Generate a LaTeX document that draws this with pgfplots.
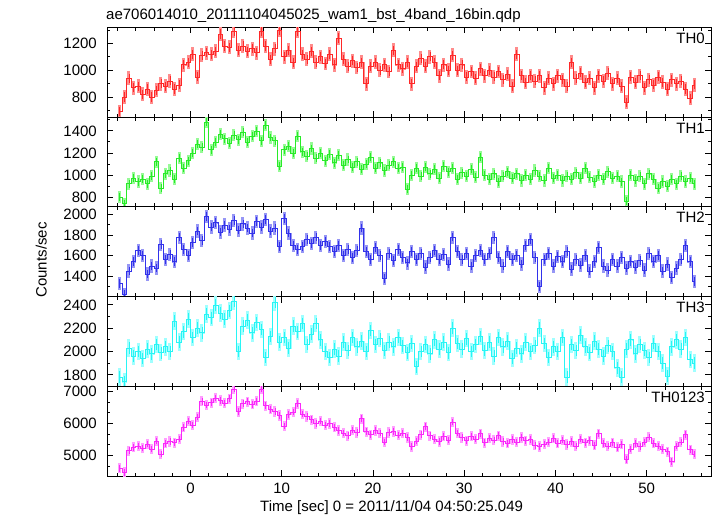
\documentclass[border=0pt]{standalone}
\usepackage{fontspec}
\setmainfont{Liberation Sans}
\usepackage{pgfplots}
\usepackage{pgfplotstable}
\pgfplotsset{compat=1.18}

\definecolor{rd}{RGB}{255,40,40}   \definecolor{rdl}{RGB}{255,140,140}
\definecolor{gr}{RGB}{40,235,40}   \definecolor{grl}{RGB}{150,250,150}
\definecolor{bl}{RGB}{50,50,235}   \definecolor{bll}{RGB}{150,150,245}
\definecolor{cy}{RGB}{40,245,245}  \definecolor{cyl}{RGB}{160,255,255}
\definecolor{mg}{RGB}{250,40,250}  \definecolor{mgl}{RGB}{255,160,255}

% t = bin centre [s]; a..e = TH0, TH1, TH2, TH3, TH0123 [counts/s]
\pgfplotstableread{
t a b c d e
-7.75 690 800 1330 1780 4600
-7.25 800 740 1220 1740 4470
-6.75 940 920 1450 2030 5150
-6.25 870 970 1540 1960 5260
-5.75 880 940 1650 2000 5300
-5.25 820 960 1600 1940 5230
-4.75 860 920 1420 2020 5360
-4.25 800 990 1500 1980 5200
-3.75 850 1120 1480 2060 5450
-3.25 900 880 1710 1990 5050
-2.75 880 1010 1560 2040 5380
-2.25 920 1040 1610 2000 5440
-1.75 860 960 1540 2260 5400
-1.25 890 1150 1780 2080 5520
-0.75 1040 1060 1660 2170 5880
-0.25 1060 1130 1600 2280 6080
0.25 1120 1200 1730 2120 5950
0.75 950 1280 1840 2200 6200
1.25 1110 1250 1750 2160 6700
1.75 1130 1480 1980 2320 6580
2.25 1120 1230 1880 2290 6650
2.75 1140 1300 1920 2400 6800
3.25 1270 1370 1830 2330 6720
3.75 1180 1330 1900 2280 6640
4.25 1170 1290 1860 2350 6780
4.75 1290 1360 1940 2430 7080
5.25 1150 1320 1850 2000 6380
5.75 1180 1390 1910 2220 6620
6.25 1140 1300 1870 2270 6680
6.75 1160 1350 1820 2160 6600
7.25 1130 1400 1930 2250 6700
7.75 1290 1310 1880 2190 7080
8.25 1180 1450 1950 1950 6560
8.75 1080 1340 1840 2130 6450
9.25 1160 1310 1870 2420 6380
9.75 1300 1080 1690 2080 6250
10.25 1100 1230 1960 2120 5920
10.75 1150 1260 1820 2030 6280
11.25 1060 1200 1700 2220 6360
11.75 1290 1350 1660 2170 6630
12.25 1120 1210 1690 2240 6300
12.75 1080 1170 1760 2060 6220
13.25 1140 1240 1720 2150 6120
13.75 1060 1150 1780 2240 6000
14.25 1100 1200 1700 2100 6080
14.75 1050 1130 1740 2000 5950
15.25 1120 1190 1690 1950 6000
15.75 1040 1110 1640 2020 5880
16.25 1240 1180 1700 1960 5780
16.75 1080 1090 1600 2080 5700
17.25 1030 1140 1660 2010 5620
17.75 1070 1070 1580 2120 5800
18.25 1020 1120 1650 2040 5720
18.75 1060 1050 1870 2090 6150
19.25 900 1100 1640 2000 5740
19.75 1030 1160 1560 2180 5650
20.25 1060 1060 1680 2060 5780
20.75 1000 1110 1600 2110 5700
21.25 1040 1040 1380 2010 5420
21.75 990 1090 1620 2080 5720
22.25 1150 1120 1550 2040 5750
22.75 1040 1060 1660 2120 5640
23.25 1010 1070 1580 2050 5700
23.75 1060 870 1530 1990 5560
24.25 900 1000 1640 2070 5280
24.75 1030 1060 1560 1870 5450
25.25 1090 990 1620 2000 5650
25.75 1030 1070 1490 2060 5900
26.25 1100 1010 1580 1980 5620
26.75 1060 1050 1650 2100 5520
27.25 960 970 1560 2020 5440
27.75 1040 1080 1610 2080 5600
28.25 1000 1030 1520 1990 5480
28.75 1110 1060 1780 2200 6050
29.25 1000 960 1640 2070 5700
29.75 1040 1020 1560 2020 5560
30.25 950 990 1620 2110 5460
30.75 990 1050 1500 2000 5600
31.25 940 980 1600 2060 5520
31.75 1010 1160 1650 2130 5680
32.25 960 1000 1560 2010 5400
32.75 1000 960 1620 2080 5550
33.25 950 1010 1780 1960 5480
33.75 990 940 1580 2120 5620
34.25 930 990 1500 2040 5440
34.75 970 1030 1640 2090 5380
35.25 880 970 1560 1940 5500
35.75 1120 1010 1600 2030 5420
36.25 960 950 1520 1980 5560
36.75 910 1000 1700 2080 5460
37.25 960 960 1760 2000 5500
37.75 920 1040 1580 2050 5320
38.25 960 990 1300 2200 5280
38.75 870 950 1560 2070 5360
39.25 940 1060 1620 1950 5420
39.75 900 970 1500 2040 5540
40.25 960 1000 1590 2000 5380
40.75 930 950 1540 2120 5480
41.25 880 990 1640 1780 5340
41.75 1060 960 1470 2060 5440
42.25 940 1020 1560 2010 5300
42.75 980 970 1510 2140 5520
43.25 910 1060 1600 2040 5400
43.75 940 980 1450 1990 5460
44.25 870 940 1540 2090 5320
44.75 960 1000 1680 2020 5680
45.25 920 960 1500 1960 5380
45.75 980 1030 1460 2050 5300
46.25 900 970 1560 2000 5400
46.75 940 990 1500 1860 5260
47.25 880 940 1580 1780 5350
47.75 760 760 1480 2020 4880
48.25 950 1000 1540 2100 5200
48.75 910 950 1490 1980 5380
49.25 960 990 1550 2060 5280
49.75 870 920 1460 2010 5420
50.25 930 1010 1620 1950 5580
50.75 890 960 1540 2070 5380
51.25 950 880 1600 2000 5300
51.75 910 940 1450 1900 5200
52.25 860 900 1520 1790 5120
52.75 930 960 1390 2040 4800
53.25 900 920 1480 2100 5300
53.75 920 990 1560 2020 5420
54.25 860 940 1700 2120 5650
54.75 790 970 1540 1930 5180
55.25 890 920 1350 1900 5050
}\lc

\newcommand{\fnt}{\fontsize{15bp}{18bp}\selectfont}

\pgfplotsset{
  panel/.style={
    scale only axis, width=604bp, height=89.8bp, anchor=south west,
    xmin=-9.15, xmax=57.05,
    xtick={0,10,...,50}, minor xtick={-8,-6,...,56},
    tick align=inside, xtick pos=both, ytick pos=both,
    major tick length=6bp, minor tick length=3.5bp,
    every tick/.style={black, line width=0.8bp},
    axis line style={line width=0.9bp},
    scaled y ticks=false, scaled x ticks=false,
    /pgf/number format/1000 sep={},
    /pgf/number format/assume math mode=true,
    font=\fnt,
    yticklabel style={inner sep=0pt, xshift=-10bp},
  },
  % wide pale error bars underneath, thin dark core and step line on top
  pale/.style 2 args={const plot mark mid, color=#1, line width=0.6bp,
    error bars/.cd, y dir=both, y fixed=#2, error mark=none,
    error bar style={line width=3bp}},
  core/.style 2 args={const plot mark mid, color=#1, line width=0.7bp,
    error bars/.cd, y dir=both, y fixed=#2, error mark=none,
    error bar style={line width=0.6bp}},
}
\tikzset{tag/.style={anchor=base east, inner sep=0pt, xshift=-6bp, yshift=-16bp, font=\fnt}}

\begin{document}
\begin{tikzpicture}
\path[use as bounding box] (0,0) rectangle (717bp,516bp);

% TH0
\begin{axis}[panel, at={(107bp,398.9bp)}, xticklabels={},
  ymin=650, ymax=1320, ytick={800,1000,1200}, minor ytick={700,900,1100,1300}]
  \addplot[pale={rdl}{52}] table[x=t, y=a] {\lc};
  \addplot[core={rd}{34}] table[x=t, y=a] {\lc};
  \node[tag] at (rel axis cs:1,1) {TH0};
\end{axis}

% TH1
\begin{axis}[panel, at={(107bp,309.1bp)}, xticklabels={},
  ymin=710, ymax=1525, ytick={800,1000,1200,1400}, minor ytick={900,1100,1300,1500}]
  \addplot[pale={grl}{55}] table[x=t, y=b] {\lc};
  \addplot[core={gr}{36}] table[x=t, y=b] {\lc};
  \node[tag] at (rel axis cs:1,1) {TH1};
\end{axis}

% TH2
\begin{axis}[panel, at={(107bp,219.3bp)}, xticklabels={},
  ymin=1200, ymax=2075, ytick={1400,1600,1800,2000}, minor ytick={1300,1500,1700,1900}]
  \addplot[pale={bll}{65}] table[x=t, y=c] {\lc};
  \addplot[core={bl}{42}] table[x=t, y=c] {\lc};
  \node[tag] at (rel axis cs:1,1) {TH2};
\end{axis}

% TH3
\begin{axis}[panel, at={(107bp,129.5bp)}, xticklabels={},
  ymin=1700, ymax=2470, ytick={1800,2000,2200,2400}, minor ytick={1900,2100,2300}]
  \addplot[pale={cyl}{75}] table[x=t, y=d] {\lc};
  \addplot[core={cy}{50}] table[x=t, y=d] {\lc};
  \node[tag] at (rel axis cs:1,1) {TH3};
\end{axis}

% TH0123
\begin{axis}[panel, at={(107bp,39.7bp)},
  xticklabel style={anchor=base, inner sep=0pt, yshift=-17bp},
  ymin=4347, ymax=7160, ytick={5000,6000,7000},
  minor ytick={4667,5333,5667,6333,6667}]
  \addplot[pale={mgl}{160}] table[x=t, y=e] {\lc};
  \addplot[core={mg}{105}] table[x=t, y=e] {\lc};
  \node[tag] at (rel axis cs:1,1) {TH0123};
\end{axis}

\node[anchor=base west, inner sep=0pt, font=\fnt] at (106bp,496bp)
  {ae706014010\_20111104045025\_wam1\_bst\_4band\_16bin.qdp};
\node[anchor=base west, inner sep=0pt, font=\fnt] at (260bp,4.5bp)
  {Time [sec] 0 = 2011/11/04 04:50:25.049};
\node[anchor=base, rotate=90, inner sep=0pt, font=\fnt] at (46.5bp,256bp) {Counts/sec};
\end{tikzpicture}
\end{document}
